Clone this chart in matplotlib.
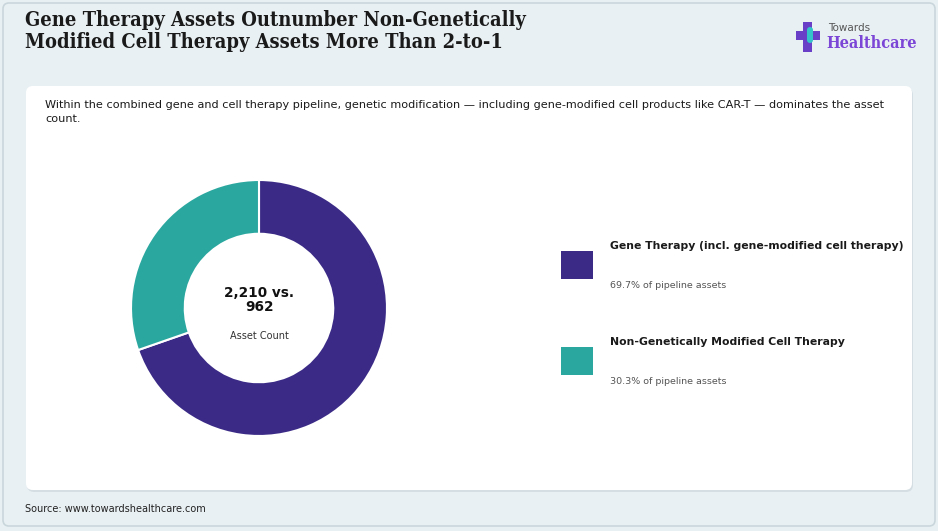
import matplotlib
matplotlib.use("Agg")
import matplotlib.pyplot as plt
from matplotlib.patches import FancyBboxPatch, Rectangle

# data
labels = ["Gene Therapy (incl. gene-modified cell therapy)", "Non-Genetically Modified Cell Therapy"]
counts = [2210, 962]
shares = ["69.7% of pipeline assets", "30.3% of pipeline assets"]
colors = ["#3b2b87", "#2aa79f"]

W, H = 938, 531
fig = plt.figure(figsize=(W / 100, H / 100), dpi=100)
fig.patch.set_facecolor("#e9f0f3")

# background layer in pixel coordinates
bg = fig.add_axes([0, 0, 1, 1])
bg.set_xlim(0, W)
bg.set_ylim(H, 0)
bg.axis("off")

bg.add_patch(FancyBboxPatch((3, 3), W - 6, H - 8, boxstyle="round,pad=0,rounding_size=6",
                            facecolor="#e9f0f3", edgecolor="#c9d6db", lw=1.2))
# card shadow + card
bg.add_patch(FancyBboxPatch((27, 88), 886, 404, boxstyle="round,pad=0,rounding_size=7",
                            facecolor="#d5dfe3", edgecolor="none"))
bg.add_patch(FancyBboxPatch((26, 86), 886, 404, boxstyle="round,pad=0,rounding_size=7",
                            facecolor="white", edgecolor="none"))

bg.text(25, 31, "Gene Therapy Assets Outnumber Non-Genetically\nModified Cell Therapy Assets More Than 2-to-1",
        fontsize=14.4, fontweight="bold", family="DejaVu Serif", fontstretch="condensed",
        va="center", ha="left", color="#1a1a1a", linespacing=1.12)

bg.text(45, 112, "Within the combined gene and cell therapy pipeline, genetic modification \u2014 including "
        "gene-modified cell products like CAR-T \u2014 dominates the asset\ncount.",
        fontsize=8.1, va="center", ha="left", color="#1a1a1a", linespacing=1.45)

bg.text(25, 509, "Source: www.towardshealthcare.com", fontsize=7, va="center", ha="left", color="#222222")

# logo
bg.add_patch(Rectangle((803, 22), 9, 30, facecolor="#6a3fc8", edgecolor="none"))
bg.add_patch(Rectangle((796, 31), 24, 9, facecolor="#6a3fc8", edgecolor="none"))
bg.add_patch(FancyBboxPatch((807, 27), 6, 16, boxstyle="round,pad=0,rounding_size=3",
                            facecolor="#34c3c9", edgecolor="none"))
bg.text(828, 28, "Towards", fontsize=7.5, color="#555555", va="center", ha="left")
bg.text(826, 44, "Healthcare", fontsize=11.6, color="#7b45d6", va="center", ha="left",
        family="DejaVu Serif", fontweight="bold", fontstretch="condensed")

# legend
ys = [265, 361]
for i in range(2):
    bg.add_patch(Rectangle((561, ys[i] - 14), 32, 28, facecolor=colors[i], edgecolor="none"))
    bg.text(610, ys[i] - 19, labels[i], fontsize=7.8, fontweight="bold", va="center", ha="left", color="#1a1a1a")
    bg.text(610, ys[i] + 20, shares[i], fontsize=6.8, va="center", ha="left", color="#555555")

# donut
cx, cy, r = 259, 308, 128
ax = fig.add_axes([(cx - r) / W, (H - cy - r) / H, 2 * r / W, 2 * r / H])
ax.pie(counts, colors=colors, startangle=90, counterclock=False, radius=1,
       wedgeprops=dict(width=0.42, edgecolor="white", linewidth=1.5))
ax.set_xlim(-1, 1)
ax.set_ylim(-1, 1)
ax.set_aspect("equal")
ax.axis("off")
ax.text(0, 0.06, f"{counts[0]:,} vs.\n{counts[1]}", fontsize=9.8, fontweight="bold",
        ha="center", va="center", color="#111111", linespacing=1.0)
ax.text(0, -0.22, "Asset Count", fontsize=7, ha="center", va="center", color="#333333")

fig.savefig("out.png", dpi=100, facecolor=fig.get_facecolor())
